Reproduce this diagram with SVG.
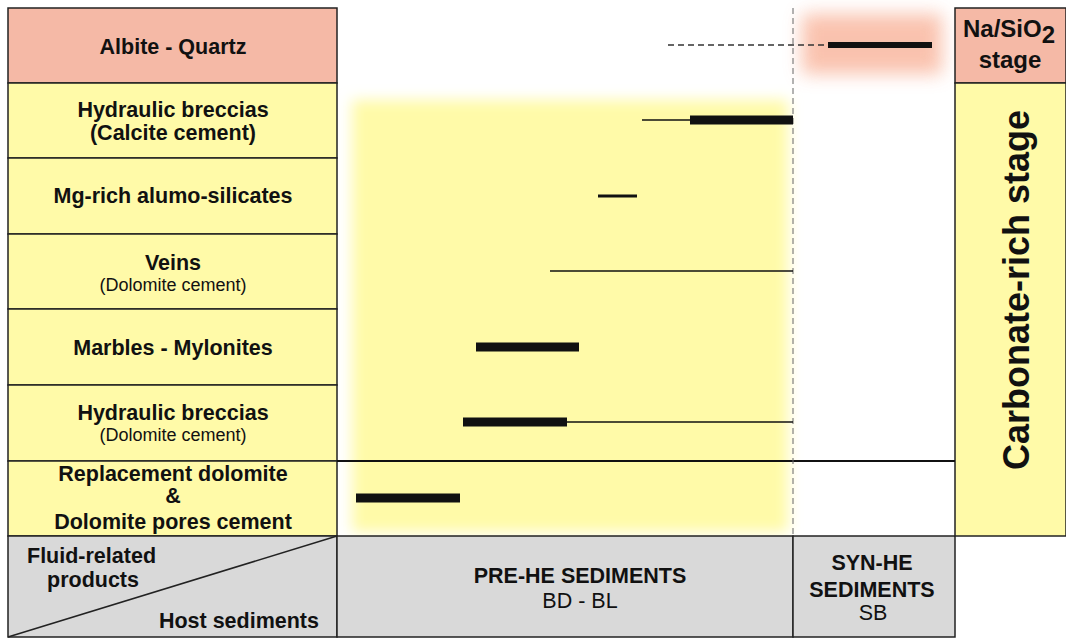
<svg xmlns="http://www.w3.org/2000/svg" width="1066" height="639" viewBox="0 0 1066 639">
<style>
text{font-family:"Liberation Sans",Arial,sans-serif;fill:#111;text-anchor:middle}
.b{font-weight:bold;font-size:21.5px}
.r{font-size:18px}
.rl{font-size:21.5px}
.cell{stroke:#222;stroke-width:1.5}
.y{fill:#fffaa8}
.p{fill:#f5b9a6}
.g{fill:#d9d9d9}
.thin{stroke:#111;stroke-width:1.6}
.thick{stroke:#111;stroke-width:9}
</style>
<defs>
<filter id="blur" x="-30%" y="-30%" width="160%" height="160%"><feGaussianBlur stdDeviation="7"/></filter>
<filter id="blur2" x="-40%" y="-60%" width="180%" height="220%"><feGaussianBlur stdDeviation="9"/></filter>
</defs>
<rect width="1066" height="639" fill="#fff"/>
<!-- shaded areas -->
<rect x="352" y="100" width="436" height="432" class="y" filter="url(#blur)"/>
<rect x="802" y="14" width="140" height="60" fill="#f9b8a0" opacity="0.85" filter="url(#blur2)"/>

<g id="row-albite"><rect x="8" y="8" width="329" height="75" class="cell p"/><text class="b" x="173" y="54">Albite - Quartz</text></g>
<g id="row-hb-calcite"><rect x="8" y="83" width="329" height="75" class="cell y"/><text class="b" x="173" y="117">Hydraulic breccias</text><text class="b" x="173" y="140">(Calcite cement)</text></g>
<g id="row-mg"><rect x="8" y="158" width="329" height="76" class="cell y"/><text class="b" x="173" y="203">Mg-rich alumo-silicates</text></g>
<g id="row-veins"><rect x="8" y="234" width="329" height="75" class="cell y"/><text class="b" x="173" y="270">Veins</text><text class="r" x="173" y="291">(Dolomite cement)</text></g>
<g id="row-marbles"><rect x="8" y="309" width="329" height="76" class="cell y"/><text class="b" x="173" y="355">Marbles - Mylonites</text></g>
<g id="row-hb-dolomite"><rect x="8" y="385" width="329" height="76" class="cell y"/><text class="b" x="173" y="420">Hydraulic breccias</text><text class="r" x="173" y="441">(Dolomite cement)</text></g>
<g id="row-replacement"><rect x="8" y="461" width="329" height="75" class="cell y"/><text class="b" x="173" y="481">Replacement dolomite</text><text class="b" x="173" y="503">&amp;</text><text class="b" x="173" y="529">Dolomite pores cement</text></g>
<g id="header-corner"><rect x="8" y="536" width="329" height="101" class="cell g"/><line x1="8" y1="637" x2="337" y2="536" stroke="#222" stroke-width="1.5"/><text class="b" x="27" y="563" style="text-anchor:start">Fluid-related</text><text class="b" x="47" y="587" style="text-anchor:start">products</text><text class="b" x="319" y="628" style="text-anchor:end">Host sediments</text></g>
<g id="pre-he"><rect x="337" y="536" width="456" height="101" class="cell g"/><text class="b" x="580" y="583">PRE-HE SEDIMENTS</text><text class="rl" x="580" y="608">BD - BL</text></g>
<g id="syn-he"><rect x="793" y="536" width="162" height="101" class="cell g"/><text class="b" x="872" y="570">SYN-HE</text><text class="b" x="872" y="597">SEDIMENTS</text><text class="rl" x="873" y="620">SB</text></g>
<g id="stage-na"><rect x="955" y="8" width="111" height="75" class="cell p"/><text class="b" x="963" y="37" style="font-size:24px;text-anchor:start">Na/SiO<tspan dy="6">2</tspan></text><text class="b" x="1010" y="68" style="font-size:24px">stage</text></g>
<g id="stage-carb"><rect x="955" y="83" width="111" height="453" class="cell y"/><text class="b" transform="translate(1029,290) rotate(-90)" style="font-size:36px">Carbonate-rich stage</text></g>

<g id="connectors">
<line x1="337" y1="461" x2="955" y2="461" stroke="#111" stroke-width="2"/>
<line x1="793" y1="8" x2="793" y2="536" stroke="#666" stroke-width="1" stroke-dasharray="6,4"/>
<line x1="668" y1="45" x2="828" y2="45" stroke="#333" stroke-width="1.5" stroke-dasharray="6,4"/>
<line x1="828" y1="45" x2="932" y2="45" stroke="#111" stroke-width="6"/>
<line x1="642" y1="120" x2="690" y2="120" class="thin"/>
<line x1="690" y1="120" x2="793" y2="120" class="thick"/>
<line x1="598" y1="196" x2="637" y2="196" stroke="#111" stroke-width="3"/>
<line x1="550" y1="271" x2="793" y2="271" class="thin"/>
<line x1="476" y1="347" x2="579" y2="347" class="thick"/>
<line x1="463" y1="422" x2="567" y2="422" class="thick"/>
<line x1="567" y1="422" x2="793" y2="422" class="thin"/>
<line x1="356" y1="498" x2="460" y2="498" class="thick"/>
</g>
</svg>
